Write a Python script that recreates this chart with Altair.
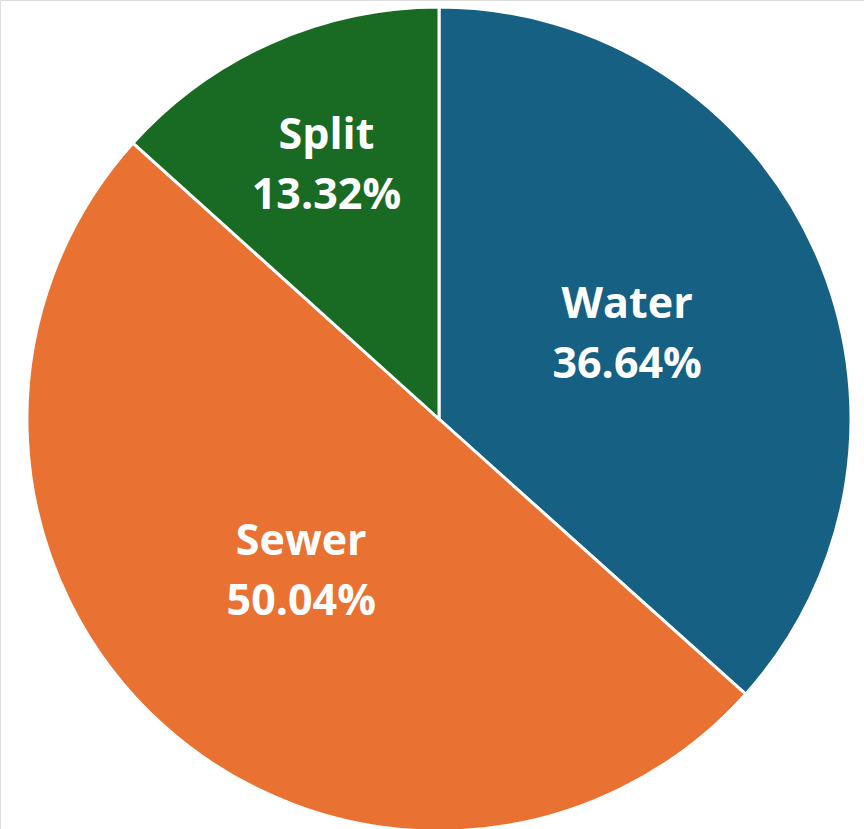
import altair as alt
import pandas as pd

# Share of service lines by type
categories = ["Water", "Sewer", "Split"]
shares = [36.64, 50.04, 13.32]
colors = ["#166083", "#E97132", "#196B24"]

df = pd.DataFrame({
    "category": categories,
    "share": shares,
    "idx": list(range(len(categories))),
})

CX, CY, R = 439, 419, 412

pie = alt.Chart(df).mark_arc(outerRadius=R, stroke="white", strokeWidth=3).encode(
    theta=alt.Theta("share:Q", stack=True),
    order=alt.Order("idx:Q"),
    x=alt.value(CX),
    y=alt.value(CY),
    color=alt.Color(
        "category:N",
        scale=alt.Scale(domain=categories, range=colors),
        legend=None,
    ),
)

# label anchors: mid-angle of each slice (radians), thin slices pushed outward
labels = alt.Chart(df).transform_window(
    cum="sum(share)", sort=[alt.SortField("idx")]
).transform_joinaggregate(
    total="sum(share)"
).transform_calculate(
    mid="(datum.cum - datum.share / 2) / datum.total * 2 * PI",
    lr="datum.share < 20 ? 277 : 206",
    label="format(datum.share, '.2f') + '%'",
).encode(
    theta=alt.Theta("mid:Q", scale=None, stack=None),
    radius=alt.Radius("lr:Q", scale=None),
    x=alt.value(CX),
    y=alt.value(CY),
)

text_style = dict(font="Open Sans", fontWeight="bold", fontSize=43, color="white",
                  align="center", baseline="middle")

name_text = labels.mark_text(dy=-30, **text_style).encode(text="category:N")
pct_text = labels.mark_text(dy=30, **text_style).encode(text="label:N")

chart = alt.layer(pie, name_text, pct_text).properties(
    width=864,
    height=829,
    padding=0,
    autosize=alt.AutoSizeParams(type="none"),
).configure_view(stroke=None).configure(background="white")

chart.save("out.html", embed_options={"renderer": "svg", "actions": False})
